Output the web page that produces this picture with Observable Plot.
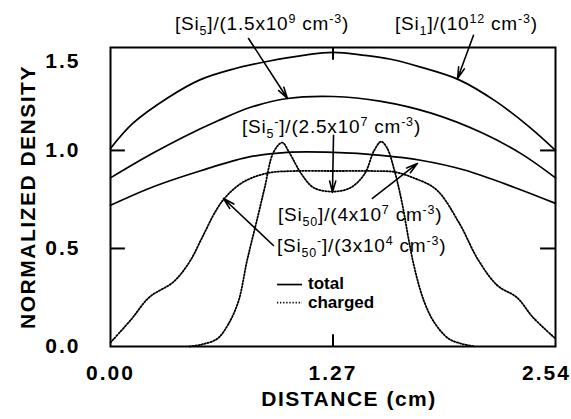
<!DOCTYPE html>
<html>
<head>
<meta charset="utf-8">
<script src="https://cdn.jsdelivr.net/npm/d3@7"></script>
<script src="https://cdn.jsdelivr.net/npm/@observablehq/plot@0.6"></script>
<style>
  body { margin: 0; background: #fff; }
  #chart svg { display: block; }
  g[aria-label$="tick label"] text { letter-spacing: 2px; }
  .axis-title { letter-spacing: 1.5px; }
</style>
</head>
<body>
<div id="chart"></div>
<script>
// ---- Data (distance in cm, normalized density) ----
const xTicks = [0, 1.27, 2.54];
const yTicks = [0, 0.5, 1.0, 1.5];

const si1X = [0.00, 0.13, 0.33, 0.51, 0.70, 0.90, 1.10, 1.27, 1.45, 1.60, 1.77, 1.99, 2.20, 2.39, 2.54];
const si1Y = [1.01, 1.14, 1.27, 1.36, 1.415, 1.455, 1.485, 1.50, 1.485, 1.465, 1.425, 1.36, 1.25, 1.12, 1.00];

const si5X = [0.00, 0.23, 0.42, 0.61, 0.80, 1.01, 1.27, 1.545, 1.83, 2.12, 2.35, 2.54];
const si5Y = [0.86, 0.98, 1.07, 1.15, 1.22, 1.265, 1.275, 1.25, 1.19, 1.09, 0.98, 0.86];

const si50X = [0.00, 0.23, 0.51, 0.78, 1.01, 1.27, 1.545, 1.77, 2.02, 2.31, 2.54];
const si50Y = [0.72, 0.81, 0.895, 0.965, 0.99, 0.99, 0.975, 0.95, 0.90, 0.81, 0.73];

const si50mX = [0.00, 0.12, 0.22, 0.36, 0.45, 0.52, 0.60, 0.66, 0.76, 0.90, 1.05, 1.27, 1.50, 1.62, 1.73, 1.86, 1.99, 2.10, 2.21, 2.32, 2.41, 2.54];
const si50mY = [0.02, 0.14, 0.25, 0.33, 0.43, 0.55, 0.69, 0.765, 0.84, 0.885, 0.895, 0.895, 0.895, 0.89, 0.86, 0.80, 0.63, 0.44, 0.31, 0.25, 0.15, 0.04];

const si5mX = [0.45, 0.52, 0.61, 0.67, 0.73, 0.78, 0.84, 0.88, 0.93, 0.98, 1.02, 1.09, 1.16, 1.27, 1.37, 1.45, 1.505, 1.545, 1.58, 1.62, 1.66, 1.73, 1.79, 1.85, 1.93, 2.00, 2.08];
const si5mY = [0.00, 0.01, 0.04, 0.11, 0.23, 0.44, 0.66, 0.81, 0.99, 1.04, 0.99, 0.88, 0.81, 0.79, 0.81, 0.88, 1.00, 1.045, 1.01, 0.90, 0.75, 0.42, 0.23, 0.12, 0.04, 0.015, 0.00];

const labelTexts = [
  "[Si_{5}]/(1.5x10^{9} cm^{-3})",
  "[Si_{1}]/(10^{12} cm^{-3})",
  "[Si_{5}^{-}]/(2.5x10^{7} cm^{-3})",
  "[Si_{50}]/(4x10^{7} cm^{-3})",
  "[Si_{50}^{-}]/(3x10^{4} cm^{-3})"
];
const labelX = [0.371, 1.627, 0.753, 0.959, 0.953];
const labelY = [1.612, 1.612, 1.087, 0.638, 0.480];

const arrowX1 = [0.788, 2.072, 1.273, 1.495, 0.930];
const arrowY1 = [1.571, 1.587, 1.077, 0.755, 0.515];
const arrowX2 = [1.010, 1.981, 1.267, 1.752, 0.645];
const arrowY2 = [1.265, 1.367, 0.786, 0.934, 0.755];

const legendNames = ["total", "charged"];
const legendY = [0.316, 0.224];
const legendTextY = [0.291, 0.194];

// ---- helpers ----
const toRows = (xs, ys) => xs.map((x, i) => ({x, y: ys[i]}));

function parseRich(s) {
  const segs = [];
  const re = /([_^])\{([^}]*)\}|([^_^]+)/g;
  let m;
  while ((m = re.exec(s))) {
    if (m[3]) segs.push({kind: "n", s: m[3]});
    else segs.push({kind: m[1] === "_" ? "sub" : "sup", s: m[2]});
  }
  return segs;
}

function richText(texts, xs, ys, fontSize, small, subShift, supShift, spacing, weight) {
  return (index, scales) => {
    const g = d3.create("svg:g")
      .attr("font-family", "'Liberation Sans', Arial, Helvetica, sans-serif")
      .attr("font-weight", weight)
      .attr("text-anchor", "start")
      .attr("fill", "black");
    texts.forEach((txt, i) => {
      const t = g.append("text")
        .attr("x", scales.x(xs[i]))
        .attr("y", scales.y(ys[i]))
        .attr("font-size", fontSize)
        .attr("letter-spacing", spacing);
      let level = 0;
      for (const seg of parseRich(txt)) {
        const target = seg.kind === "sub" ? subShift : seg.kind === "sup" ? -supShift : 0;
        const ts = t.append("tspan").text(seg.s);
        if (target !== level) ts.attr("dy", target - level);
        level = target;
        if (seg.kind !== "n") ts.attr("font-size", small);
      }
    });
    return g.node();
  };
}

const lineStyle = {x: "x", y: "y", stroke: "black", curve: "catmull-rom"};
const totalStyle = {...lineStyle, strokeWidth: 1.7};
const chargedStyle = {...lineStyle, strokeWidth: 1.8, strokeDasharray: "1.3,1.8"};

const legendRows = legendNames.map((n, i) => ({n, y: legendY[i]}));

const chart = Plot.plot({
  width: 571,
  height: 419,
  marginLeft: 110,
  marginRight: 16,
  marginTop: 47,
  marginBottom: 73,
  style: {fontFamily: "'Liberation Sans', Arial, Helvetica, sans-serif", color: "black", background: "white"},
  x: {domain: [0, 2.54]},
  y: {domain: [0, 1.525]},
  marks: [
    // curves
    Plot.line(toRows(si1X, si1Y), totalStyle),
    Plot.line(toRows(si5X, si5Y), totalStyle),
    Plot.line(toRows(si50X, si50Y), totalStyle),
    Plot.line(toRows(si5mX, si5mY), chargedStyle),
    Plot.line(toRows(si50mX, si50mY), chargedStyle),
    // inward ticks
    Plot.ruleY(yTicks.slice(1, 3), {x1: 0, x2: 0.085, stroke: "black", strokeWidth: 2}),
    Plot.ruleY(yTicks.slice(1, 3), {x1: 2.455, x2: 2.54, stroke: "black", strokeWidth: 2}),
    Plot.ruleX([xTicks[1]], {y1: 0, y2: 0.06, stroke: "black", strokeWidth: 2}),
    Plot.ruleX([xTicks[1]], {y1: 1.46, y2: 1.525, stroke: "black", strokeWidth: 2}),
    Plot.frame({stroke: "black", strokeWidth: 2}),
    // axes
    Plot.axisX(xTicks.slice(0, 2), {tickFormat: d3.format(".2f"), tickSize: 0, tickPadding: 19, fontSize: 21, fontWeight: "bold", label: null}),
    Plot.axisX(xTicks.slice(2), {tickFormat: d3.format(".2f"), tickSize: 0, tickPadding: 19, fontSize: 21, fontWeight: "bold", dx: -9, label: null}),
    Plot.axisY(yTicks.slice(0, 3), {tickFormat: d3.format(".1f"), tickSize: 0, tickPadding: 30, fontSize: 21, fontWeight: "bold", label: null}),
    Plot.axisY(yTicks.slice(3), {tickFormat: d3.format(".1f"), tickSize: 0, tickPadding: 30, fontSize: 21, fontWeight: "bold", dy: 9, label: null}),
    Plot.text(["NORMALIZED DENSITY"], {frameAnchor: "left", textAnchor: "middle", rotate: -90, dx: -82, fontSize: 21, fontWeight: "bold", className: "axis-title"}),
    Plot.text(["DISTANCE (cm)"], {frameAnchor: "bottom", textAnchor: "middle", dx: 16, dy: 59, fontSize: 21, fontWeight: "bold", className: "axis-title"}),
    // annotation arrows
    Plot.arrow(arrowX1.map((x, i) => ({x1: x, y1: arrowY1[i], x2: arrowX2[i], y2: arrowY2[i]})),
      {x1: "x1", y1: "y1", x2: "x2", y2: "y2", stroke: "black", strokeWidth: 1.6, headLength: 11, headAngle: 30}),
    // annotation labels
    richText(labelTexts, labelX, labelY, 19, 12.5, 5, 7, 0.8, "normal"),
    // legend
    Plot.ruleY(legendRows.slice(0, 1), {y: "y", x1: 0.953, x2: 1.096, stroke: "black", strokeWidth: 1.7}),
    Plot.ruleY(legendRows.slice(1), {y: "y", x1: 0.953, x2: 1.096, stroke: "black", strokeWidth: 1.8, strokeDasharray: "1.3,1.8"}),
    richText(legendNames, [1.13, 1.13], legendTextY, 17, 12, 0, 0, 0, "bold")
  ]
});

document.getElementById("chart").appendChild(chart);
</script>
</body>
</html>
